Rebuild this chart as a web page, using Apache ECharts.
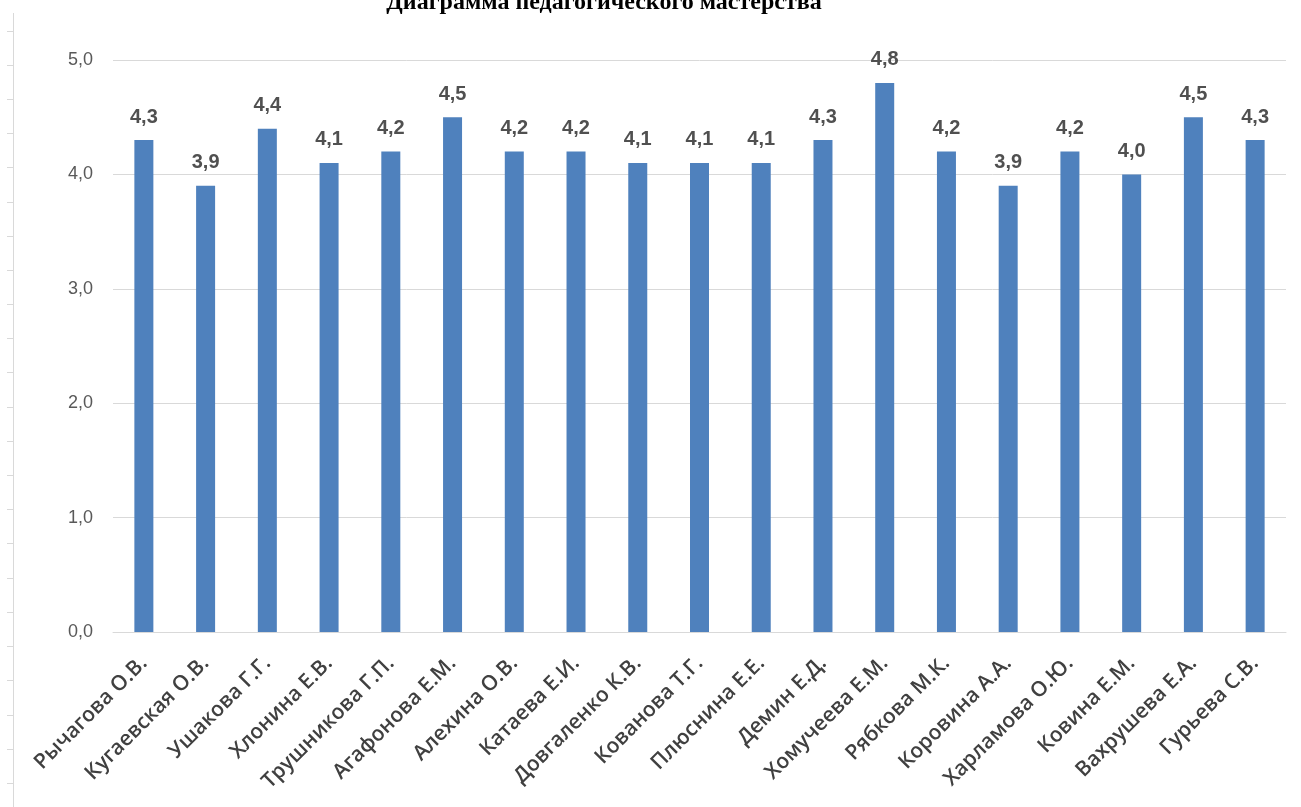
<!DOCTYPE html>
<html><head><meta charset="utf-8">
<script src="https://cdn.jsdelivr.net/npm/echarts@6/dist/echarts.min.js"></script>
<style>html,body{margin:0;padding:0;background:#fff}#c{width:1301px;height:807px}</style>
</head><body><div id="c"></div>
<script>
var categories = ["Рычагова О.В.","Кугаевская О.В.","Ушакова Г.Г.","Хлонина Е.В.","Трушникова Г.П.","Агафонова Е.М.","Алехина О.В.","Катаева Е.И.","Довгаленко К.В.","Кованова Т.Г.","Плюснина Е.Е.","Демин Е.Д.","Хомучеева Е.М.","Рябкова М.К.","Коровина А.А.","Харламова О.Ю.","Ковина Е.М.","Вахрушева Е.А.","Гурьева С.В."];
var values = [4.3,3.9,4.4,4.1,4.2,4.5,4.2,4.2,4.1,4.1,4.1,4.3,4.8,4.2,3.9,4.2,4.0,4.5,4.3];
var titleText = "Диаграмма педагогического мастерства";

var chart = echarts.init(document.getElementById('c'));
// decorative ruler at the left edge
var ruler = [{type:'line', shape:{x1:13.5,y1:13,x2:13.5,y2:807}, style:{stroke:'#d9d9d9',lineWidth:1}}];
for (var y = 30.5; y < 807; y += 34.2) {
  ruler.push({type:'line', shape:{x1:7,y1:Math.round(y)+0.5,x2:13,y2:Math.round(y)+0.5}, style:{stroke:'#d9d9d9',lineWidth:1}});
}
chart.setOption({
  animation:false,
  title:{text:titleText, left:599, textAlign:'center', top:-14,
    textStyle:{fontFamily:'Liberation Serif', fontWeight:'bold', fontSize:24, color:'#000'}},
  graphic: ruler,
  grid:{left:113, right:15, top:60, bottom:175},
  xAxis:{type:'category', data:categories,
    axisLine:{lineStyle:{color:'#d9d9d9', width:1}}, axisTick:{show:false},
    axisLabel:{rotate:45, interval:0, color:'#404040', fontFamily:'Open Sans', fontWeight:600, fontSize:21, margin:28}},
  yAxis:{type:'value', min:0, max:5, interval:1,
    axisLine:{show:false}, axisTick:{show:false},
    splitLine:{lineStyle:{color:'#d9d9d9', width:1}},
    axisLabel:{color:'#595959', fontFamily:'Liberation Sans', fontSize:18, margin:20,
      formatter:function(v){return v.toFixed(1).replace('.',',');}}},
  series:[{type:'bar', data:values, barWidth:19,
    itemStyle:{color:'#4F81BD'},
    label:{show:true, position:'top', distance:13, color:'#505050', fontFamily:'Liberation Sans', fontWeight:'bold', fontSize:20,
      formatter:function(p){return p.value.toFixed(1).replace('.',',');}}}]
});
</script></body></html>
